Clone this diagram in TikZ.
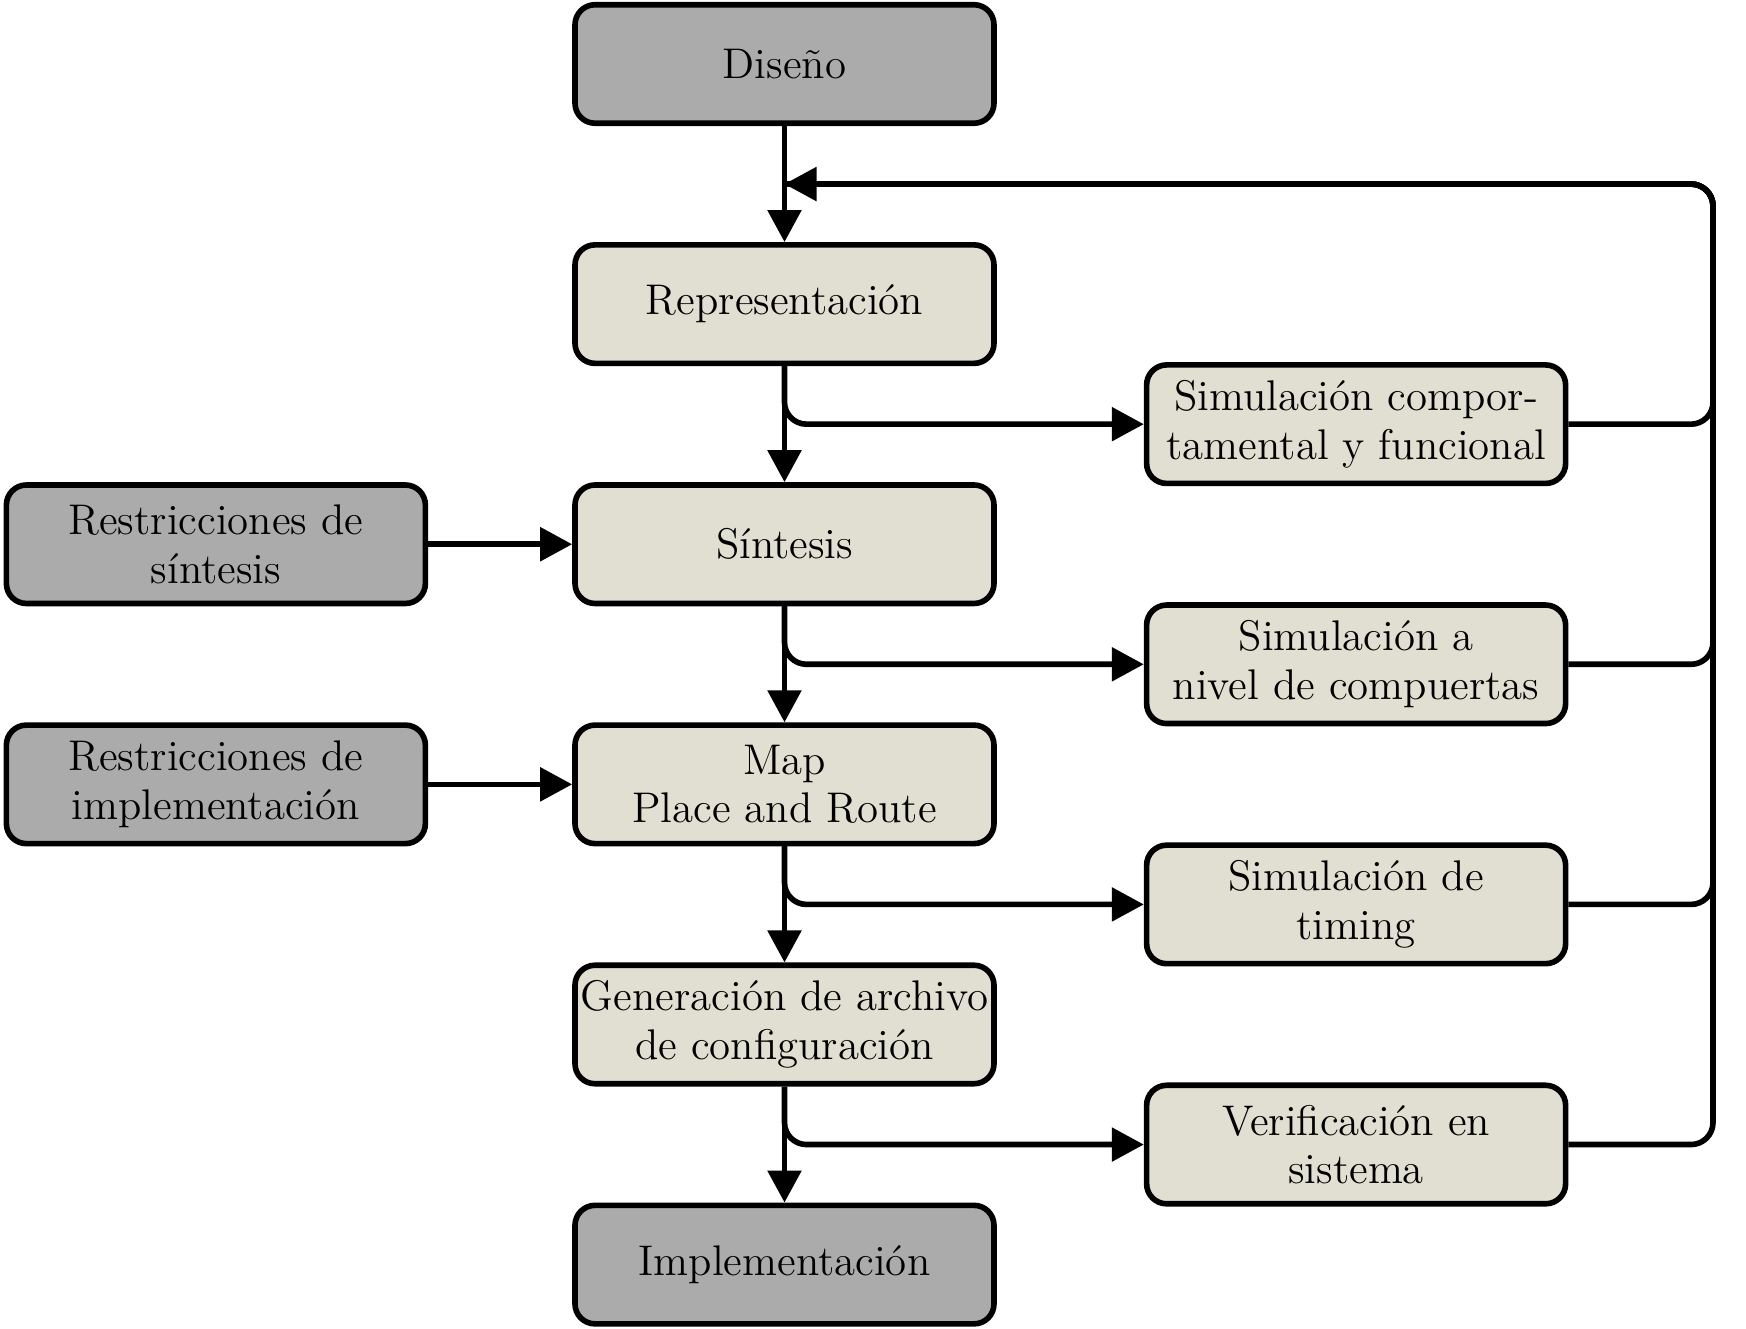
\documentclass[tikz,border=0pt]{standalone}
\usepackage{tikz}
\usetikzlibrary{arrows.meta,positioning,calc}
\definecolor{fgray}{RGB}{171,171,171}
\definecolor{fbeige}{RGB}{224,223,209}
\tikzstyle{arrow} = [line width=1.6pt,-{Triangle[length=3.2mm,width=3.3mm]}]
\tikzstyle{line} = [line width=1.6pt]
\tikzstyle{stage} = [rectangle, rounded corners=2mm, minimum width=4.19cm, minimum height=1.185cm, text centered, align=center, draw=black, fill=fbeige, line width=1.6pt, inner sep=1pt, font=\fontsize{12.2}{13.8}\selectfont]
\tikzstyle{io} = [stage, fill=fgray]

\begin{document}
\begin{tikzpicture}[node distance=1.16cm]
\useasboundingbox (0,0) rectangle (17.46,-13.29);
% Main flow
\node (diseno) [io] at (7.845,-0.64) {Diseño};
\node (repr) [stage, below=of diseno] {Representación};
\node (sint) [stage, below=of repr] {Síntesis};
\node (map) [stage, below=of sint] {Map\\Place and Route};
\node (gen) [stage, below=of map] {Generación de archivo\\de configuración};
\node (impl) [io, below=of gen] {Implementación};

% Constraints
\node (rsint) [io, left=1.44cm of sint] {Restricciones de\\síntesis};
\node (rimpl) [io, left=1.44cm of map] {Restricciones de\\implementación};

% Simulation and verification
\coordinate (m1) at ($(repr.east)!0.5!(sint.east)$);
\coordinate (m2) at ($(sint.east)!0.5!(map.east)$);
\coordinate (m3) at ($(map.east)!0.5!(gen.east)$);
\coordinate (m4) at ($(gen.east)!0.5!(impl.east)$);
\node (simfun) [stage, right=1.47cm of m1] {Simulación compor-\\tamental y funcional};
\node (simgate) [stage, right=1.47cm of m2] {Simulación a\\nivel de compuertas};
\node (simtime) [stage, right=1.47cm of m3] {Simulación de\\timing};
\node (verif) [stage, right=1.47cm of m4] {Verificación en\\sistema};

\draw[arrow] (diseno) -- (repr);
\draw[arrow] (repr) -- (sint);
\draw[arrow] (sint) -- (map);
\draw[arrow] (map) -- (gen);
\draw[arrow] (gen) -- (impl);

\draw[arrow] (rsint) -- (sint);
\draw[arrow] (rimpl) -- (map);

\draw[arrow, rounded corners=2.2mm] (repr.south) |- (simfun);
\draw[arrow, rounded corners=2.2mm] (sint.south) |- (simgate);
\draw[arrow, rounded corners=2.2mm] (map.south) |- (simtime);
\draw[arrow, rounded corners=2.2mm] (gen.south) |- (verif);

% Feedback bus
\coordinate (fb) at ($(diseno.south)!0.5!(repr.north)$);
\coordinate (bus) at (17.13,0);
\draw[line, rounded corners=2.2mm] (simfun.east) -| (bus |- fb) -- (fb);
\draw[line, rounded corners=2.2mm] (simgate.east) -| (bus |- fb) -- (fb);
\draw[line, rounded corners=2.2mm] (simtime.east) -| (bus |- fb) -- (fb);
\draw[arrow, rounded corners=2.2mm] (verif.east) -| (bus |- fb) -- (fb);
\end{tikzpicture}
\end{document}
